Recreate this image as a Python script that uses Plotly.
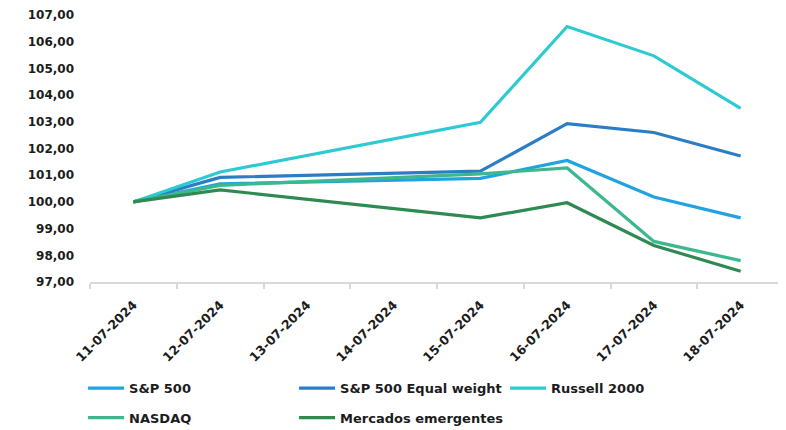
import plotly.graph_objects as go

all_dates = ["11-07-2024", "12-07-2024", "13-07-2024", "14-07-2024",
             "15-07-2024", "16-07-2024", "17-07-2024", "18-07-2024"]
trade_dates = ["11-07-2024", "12-07-2024", "15-07-2024", "16-07-2024",
               "17-07-2024", "18-07-2024"]

sp500 = [100.00, 100.68, 100.88, 101.55, 100.18, 99.40]
sp500_ew = [100.00, 100.92, 101.15, 102.93, 102.60, 101.72]
russell = [100.00, 101.12, 102.98, 106.57, 105.47, 103.50]
nasdaq = [100.00, 100.62, 101.05, 101.27, 98.52, 97.80]
emergentes = [100.00, 100.45, 99.40, 99.97, 98.37, 97.40]

y_ticks = [97, 98, 99, 100, 101, 102, 103, 104, 105, 106, 107]

series = [
    ("S&P 500", sp500, "#21a3e2", "legend"),
    ("S&P 500 Equal weight", sp500_ew, "#2b7ec4", "legend"),
    ("Russell 2000", russell, "#2ecad4", "legend"),
    ("NASDAQ", nasdaq, "#3db88d", "legend2"),
    ("Mercados emergentes", emergentes, "#2f8a52", "legend2"),
]

x_idx = [all_dates.index(d) for d in trade_dates]

fig = go.Figure()
for name, vals, color, lg in series:
    fig.add_trace(go.Scatter(
        x=x_idx, y=vals, name=name, mode="lines", legend=lg,
        line=dict(color=color, width=3.2),
    ))

FONT = "DejaVu Sans"
TXT = "#1c1c1c"
legend_common = dict(
    orientation="h", x=-0.010, xanchor="left", yanchor="middle",
    entrywidth=160, entrywidthmode="pixels",
    font=dict(family=FONT, size=13, weight="bold", color=TXT),
    itemwidth=36, bgcolor="rgba(0,0,0,0)",
)

n = len(all_dates)
fig.update_layout(
    width=786, height=430,
    margin=dict(l=82, r=10, t=7, b=156, autoexpand=False),
    paper_bgcolor="white", plot_bgcolor="white",
    separators=",.",
    font=dict(family=FONT, color=TXT),
    showlegend=True,
    legend=dict(legend_common, y=-0.398),
    legend2=dict(legend_common, y=-0.508),
    xaxis=dict(
        range=[-0.5, n - 0.5],
        tickmode="array", tickvals=list(range(n)), ticktext=all_dates,
        tickangle=-45, ticks="", ticklabelstandoff=9,
        tickfont=dict(family=FONT, size=12.5, weight="bold", color=TXT),
        showgrid=False, zeroline=False, automargin=False,
        showline=True, linecolor="#d9d9d9", linewidth=1.5,
        minor=dict(tickmode="array", tickvals=[i - 0.5 for i in range(n + 1)],
                   ticks="outside", ticklen=5, tickcolor="#d9d9d9", tickwidth=1.5,
                   showgrid=False),
    ),
    yaxis=dict(
        range=[97, 107], tickmode="array", tickvals=y_ticks,
        tickformat=".2f", ticklabelstandoff=15, automargin=False,
        tickfont=dict(family=FONT, size=12, weight="bold", color=TXT),
        showgrid=False, zeroline=False, showline=False, ticks="",
    ),
)

fig.write_html("out.html")
